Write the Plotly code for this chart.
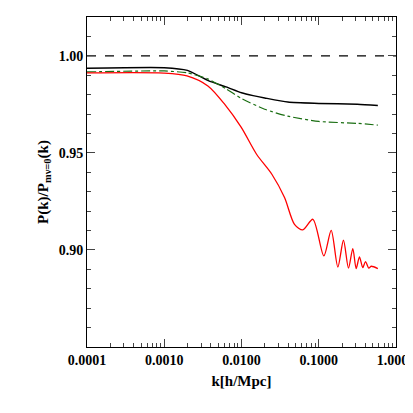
import plotly.graph_objects as go

log_k_red = [-4, -3.004, -2.706, -2.435, -2.219, -2.003, -1.805, -1.607, -1.443, -1.314, -1.206, -1.076,
             -0.934, -0.839, -0.753, -0.680, -0.615, -0.559, -0.516, -0.473, -0.430, -0.395, -0.352, -0.322, -0.235]
red = [0.9912, 0.9911, 0.9897, 0.9845, 0.9751, 0.9631, 0.9493, 0.9390, 0.9270, 0.9132, 0.9103, 0.9158,
       0.8969, 0.9101, 0.8912, 0.9050, 0.8906, 0.9007, 0.8904, 0.8964, 0.8909, 0.8940, 0.8906, 0.8916, 0.8904]
log_k_black = [-4, -3, -2.7, -2.43, -2.2, -2, -1.85, -1.7, -1.4, -1, -0.5, -0.235]
black = [0.9936, 0.9939, 0.9925, 0.9872, 0.9840, 0.9810, 0.9795, 0.9783, 0.9762, 0.9755, 0.9750, 0.9744]
log_k_green = [-4, -3, -2.7, -2.43, -2.2, -2, -1.7, -1.4, -1, -0.5, -0.235]
green = [0.9917, 0.9922, 0.9912, 0.9880, 0.9830, 0.9780, 0.9725, 0.9689, 0.9662, 0.9652, 0.9643]

tickvals = [0.0001, 0.001, 0.01, 0.1, 1.0]
ticktext = ["0.0001", "0.0010", "0.0100", "0.1000", "1.0000"]
minor_x = [m * d for d in [0.0001, 0.001, 0.01, 0.1] for m in range(2, 10)]

def k(lst):
    return [10 ** v for v in lst]

fig = go.Figure()
fig.add_trace(go.Scatter(x=[0.0001, 1.0], y=[1.0, 1.0], mode="lines",
                         line=dict(color="black", width=1.2, dash="dash")))
fig.add_trace(go.Scatter(x=k(log_k_black), y=black, mode="lines",
                         line=dict(color="black", width=1.5, shape="spline", smoothing=0.6)))
fig.add_trace(go.Scatter(x=k(log_k_green), y=green, mode="lines",
                         line=dict(color="#1a6e12", width=1.2, dash="dashdot", shape="spline", smoothing=0.6)))
fig.add_trace(go.Scatter(x=k(log_k_red), y=red, mode="lines",
                         line=dict(color="red", width=1.3, shape="spline", smoothing=0.8)))

font = dict(family="Liberation Serif", size=15, color="black")
tfont = dict(family="Liberation Serif", size=14, color="black", weight="bold")
fig.update_layout(
    width=413, height=413, showlegend=False,
    paper_bgcolor="white", plot_bgcolor="white",
    margin=dict(l=79, r=25, t=9, b=74),
    font=font,
    xaxis=dict(type="log", range=[-4, 0], tickvals=tickvals, ticktext=ticktext,
               ticks="inside", ticklen=8, mirror="allticks", showline=True, linecolor="black",
               showgrid=False, zeroline=False, automargin=False,
               minor=dict(ticks="inside", ticklen=4, tickvals=minor_x, showgrid=False),
               tickfont=tfont,
               title=dict(text="<b>k[h/Mpc]</b>", font=font, standoff=8)),
    yaxis=dict(range=[0.85, 1.02], tickvals=[0.90, 0.95, 1.00], ticktext=["0.90", "0.95", "1.00"],
               ticks="inside", ticklen=8, mirror="allticks", showline=True, linecolor="black",
               showgrid=False, zeroline=False, automargin=False,
               minor=dict(ticks="inside", ticklen=4, dtick=0.01, showgrid=False),
               tickfont=tfont,
               title=dict(text="<b>P(k)/P<sub>mν=0</sub>(k)</b>", font=font, standoff=6)),
)
fig.write_html("out.html")
